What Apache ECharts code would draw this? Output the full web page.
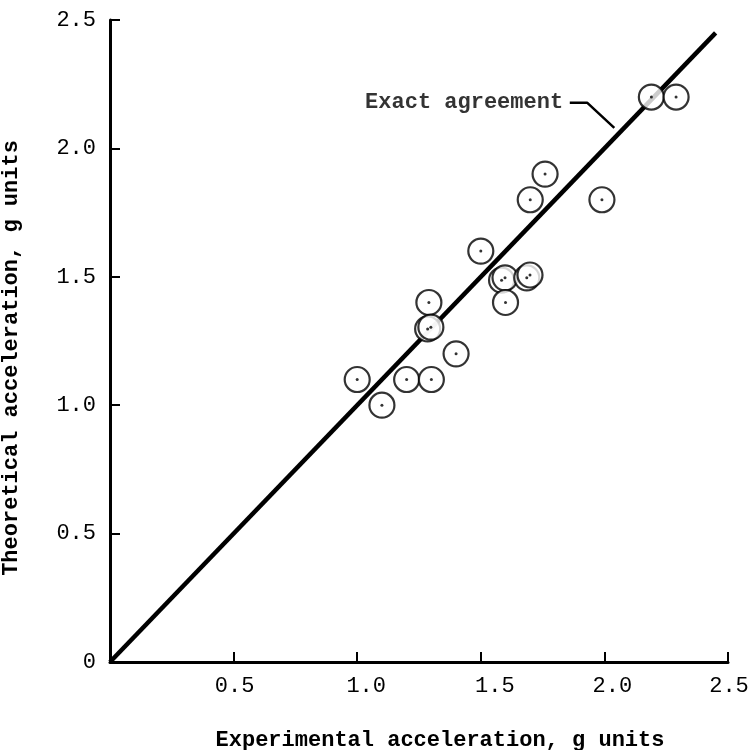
<!DOCTYPE html>
<html>
<head>
<meta charset="utf-8">
<script src="https://cdn.jsdelivr.net/npm/echarts@6/dist/echarts.min.js"></script>
<style>
    html, body { margin: 0; padding: 0; background: #fff; }
    #chart { width: 753px; height: 750px; }
</style>
</head>
<body>
<div id="chart"></div>
<script>
// measured points, [experimental, theoretical] in g units
// (the doubled rings in the plot are two readings almost on top of each other)
const experimental = [1.0, 1.1, 1.2, 1.3, 1.29, 1.285, 1.298, 1.4, 1.5, 1.584, 1.598, 1.6, 1.686, 1.699, 1.7, 1.76, 1.99, 2.19, 2.29];
const theoretical  = [1.1, 1.0, 1.1, 1.1, 1.4, 1.297, 1.304, 1.2, 1.6, 1.487, 1.496, 1.4, 1.496, 1.507, 1.8, 1.9, 1.8, 2.2, 2.2];

// line of exact agreement (y = x)
const agreementLine = [[0, 0], [2.45, 2.45]];

// label and its leader line
const agreementLabel = 'Exact agreement';
const labelAnchor = [1.835, 2.18];
const leaderLine = [[1.86, 2.178], [1.93, 2.178], [2.04, 2.08]];

const axisTicks = [0, 0.5, 1.0, 1.5, 2.0, 2.5];

const xTitle = 'Experimental acceleration, g units';
const yTitle = 'Theoretical acceleration, g units';

const points = experimental.map((x, i) => [x, theoretical[i]]);

const mono = '"Liberation Mono", "DejaVu Sans Mono", monospace';

function fmtTick(v) {
    if (v === 0) return '0';
    return v.toFixed(1);
}

const chart = echarts.init(document.getElementById('chart'), null, { renderer: 'canvas' });

// tick labels were typed by hand, so a few sit a little right of their tick
const xLabelStyle = shift => ({ fontFamily: mono, fontSize: 22, color: '#000', padding: [0, 0, 0, shift] });

const options = {
    backgroundColor: '#fff',
    animation: false,
    grid: {
        left: 110,
        right: 25,
        top: 20,
        bottom: 88,
        outerBoundsMode: 'none'
    },
    xAxis: {
        type: 'value',
        min: axisTicks[0],
        max: axisTicks[axisTicks.length - 1],
        interval: 0.5,
        splitLine: { show: false },
        axisLine: { lineStyle: { color: '#000', width: 3 } },
        axisTick: { inside: true, length: 10, lineStyle: { color: '#000', width: 2 } },
        axisLabel: {
            margin: 13,
            color: '#000',
            fontFamily: mono,
            fontSize: 22,
            formatter: v => v === 0 ? '' : `{t${Math.round(v * 10)}|${fmtTick(v)}}`,
            rich: {
                t5: xLabelStyle(2),
                t10: xLabelStyle(18),
                t15: xLabelStyle(28),
                t20: xLabelStyle(16),
                t25: xLabelStyle(2)
            }
        },
        name: xTitle,
        nameLocation: 'middle',
        nameGap: 67,
        nameTextStyle: {
            color: '#000',
            fontFamily: mono,
            fontWeight: 'bold',
            fontSize: 22,
            padding: [0, 0, 0, 42]
        }
    },
    yAxis: {
        type: 'value',
        min: axisTicks[0],
        max: axisTicks[axisTicks.length - 1],
        interval: 0.5,
        splitLine: { show: false },
        axisLine: { lineStyle: { color: '#000', width: 3 } },
        axisTick: { inside: true, length: 10, lineStyle: { color: '#000', width: 2 } },
        axisLabel: {
            margin: 14,
            color: '#000',
            fontFamily: mono,
            fontSize: 22,
            formatter: fmtTick
        },
        name: yTitle,
        nameLocation: 'middle',
        nameGap: 88,
        nameTextStyle: {
            color: '#000',
            fontFamily: mono,
            fontWeight: 'bold',
            fontSize: 22,
            padding: [0, 34, 0, 0]
        }
    },
    series: [
        {
            name: 'Exact agreement',
            type: 'line',
            data: agreementLine,
            symbol: 'none',
            lineStyle: { color: '#000', width: 4.5 },
            z: 1
        },
        {
            name: 'leader',
            type: 'line',
            data: leaderLine,
            symbol: 'none',
            lineStyle: { color: '#000', width: 2.5 },
            z: 1
        },
        {
            name: 'label',
            type: 'scatter',
            data: [labelAnchor],
            symbolSize: 1,
            itemStyle: { color: 'rgba(0,0,0,0)' },
            label: {
                show: true,
                position: 'left',
                distance: 0,
                formatter: agreementLabel,
                color: '#000',
                fontFamily: mono,
                fontWeight: 'bold',
                fontSize: 22
            },
            silent: true,
            z: 2
        },
        {
            name: 'rings',
            type: 'scatter',
            data: points,
            symbol: 'circle',
            symbolSize: 25,
            itemStyle: { color: '#fff', borderColor: '#000', borderWidth: 2.2 },
            z: 3
        },
        {
            name: 'dots',
            type: 'scatter',
            data: points,
            symbol: 'circle',
            symbolSize: 3,
            itemStyle: { color: '#000' },
            z: 4
        }
    ]
};

chart.setOption(options);
</script>
</body>
</html>
